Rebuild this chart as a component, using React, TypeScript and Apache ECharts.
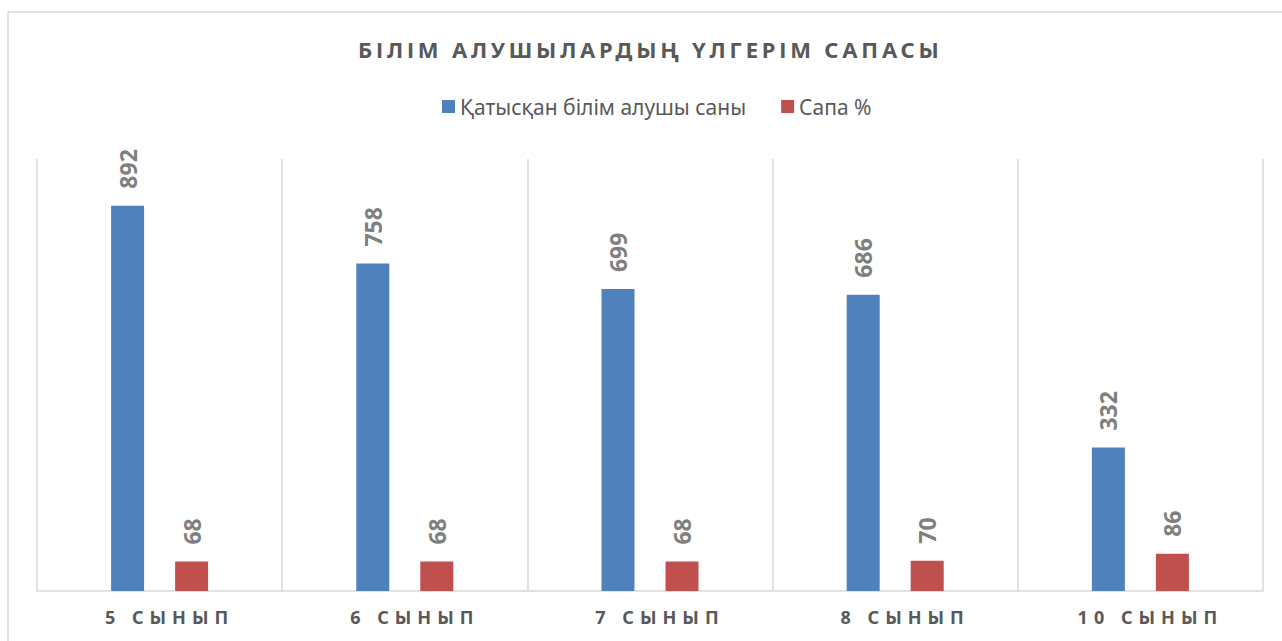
import React, { useEffect, useRef } from "react";
import * as echarts from "echarts";

const TITLE = "БІЛІМ АЛУШЫЛАРДЫҢ ҮЛГЕРІМ САПАСЫ";
const categories = ["5 СЫНЫП", "6 СЫНЫП", "7 СЫНЫП", "8 СЫНЫП", "10 СЫНЫП"];
const participants = [892, 758, 699, 686, 332];
const quality = [68, 68, 68, 70, 86];
const seriesNames = ["Қатысқан білім алушы саны", "Сапа %"];
const yMin = 0;
const yMax = 1000;

const FONT = "'Noto Sans', 'Open Sans', sans-serif";

export default function App() {
  const ref = useRef<HTMLDivElement>(null);
  useEffect(() => {
    if (!ref.current) return;
    const chart = echarts.init(ref.current, undefined, { renderer: "svg" });
    const label = {
      show: true,
      position: "top",
      rotate: 90,
      align: "left",
      verticalAlign: "middle",
      distance: 17,
      color: "#7f7f7f",
      fontWeight: "bold",
      fontSize: 23,
      fontFamily: FONT,
    };
    chart.setOption({
      animation: false,
      backgroundColor: "#ffffff",
      title: {
        text: TITLE,
        left: 353,
        top: 33,
        textStyle: { color: "#595959", fontSize: 22, fontWeight: "bold", fontFamily: FONT },
      },
      legend: {
        data: seriesNames,
        top: 91,
        left: 437,
        icon: "rect",
        itemWidth: 13,
        itemHeight: 13,
        itemGap: 35,
        textStyle: { color: "#595959", fontSize: 21, fontFamily: FONT },
      },
      graphic: [
        {
          type: "rect",
          shape: { x: 8, y: 12, width: 1400, height: 800 },
          style: { fill: "none", stroke: "#d9d9d9", lineWidth: 1.5 },
          silent: true,
        },
      ],
      grid: { left: 37, right: 19, top: 159, bottom: 50 },
      xAxis: {
        type: "category",
        data: categories,
        axisTick: { show: false },
        axisLine: { lineStyle: { color: "#d9d9d9", width: 1.5 } },
        splitLine: { show: true, lineStyle: { color: "#d9d9d9", width: 1.5 } },
        axisLabel: {
          color: "#595959",
          fontSize: 18,
          fontWeight: "bold",
          fontFamily: FONT,
          margin: 17,
        },
      },
      yAxis: {
        type: "value",
        min: yMin,
        max: yMax,
        show: false,
        splitLine: { show: false },
      },
      series: [
        {
          name: seriesNames[0],
          type: "bar",
          data: participants,
          barWidth: 33,
          barGap: "94%",
          itemStyle: { color: "#4f81bd" },
          label,
        },
        {
          name: seriesNames[1],
          type: "bar",
          data: quality,
          barWidth: 33,
          itemStyle: { color: "#c0504d" },
          label,
        },
      ],
    });
    const svg = ref.current.querySelector("svg");
    if (svg) {
      svg.querySelectorAll("text").forEach((t) => {
        const s = t.textContent || "";
        if (s === TITLE) t.setAttribute("letter-spacing", "3.8");
        else if (categories.includes(s)) {
          t.setAttribute("letter-spacing", "6");
          t.setAttribute("dx", "10");
        }
      });
    }
    return () => chart.dispose();
  }, []);
  return (
    <div
      ref={ref}
      style={{ position: "absolute", left: 0, top: 0, width: 1282, height: 641 }}
    />
  );
}
